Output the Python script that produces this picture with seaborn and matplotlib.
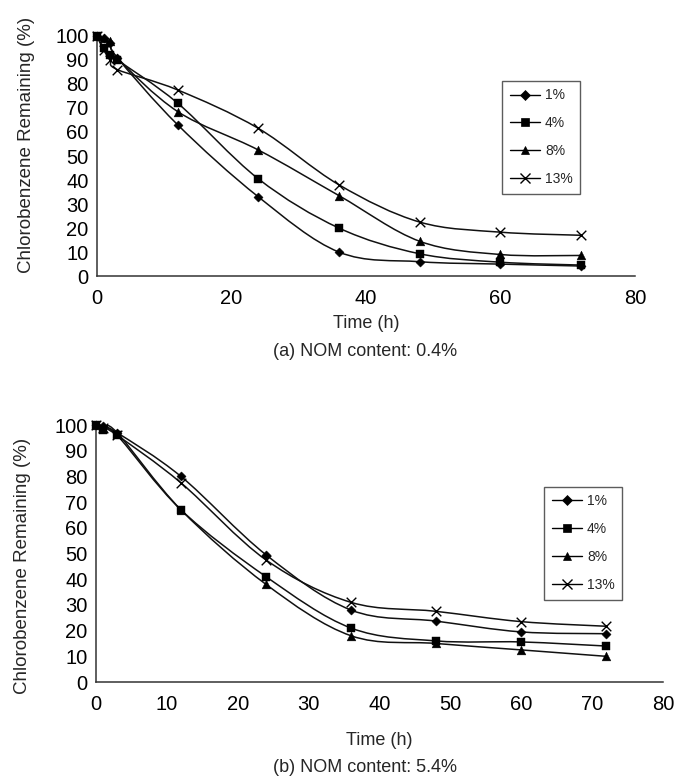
import numpy as np
import pandas as pd
import matplotlib
matplotlib.use("Agg")
import matplotlib.pyplot as plt
import seaborn as sns
from matplotlib.path import Path
from matplotlib.patches import PathPatch
from matplotlib.lines import Line2D

# ---- data ----
series = ["1%", "4%", "8%", "13%"]

time_a = [0, 1, 2, 3, 12, 24, 36, 48, 60, 72]
a_1 = [100, 99, 97, 91, 63, 33, 10, 6, 5, 4.2]
a_4 = [100, 95, 92, 90, 72, 40.5, 20, 9.3, 5.8, 4.6]
a_8 = [100, 99, 98, 91, 68.5, 52.5, 33.5, 14.5, 9, 8.6]
a_13 = [100, 94, 90, 86, 77.5, 61.5, 38, 22.5, 18.3, 17]

time_b = [0, 1, 3, 12, 24, 36, 48, 60, 72]
b_1 = [100, 99.5, 97, 80, 49.5, 28, 23.7, 19.5, 18.8]
b_4 = [100, 98, 96, 67, 41, 21, 16, 15.6, 14]
b_8 = [100, 99, 97, 67, 38, 18, 15, 12.5, 10]
b_13 = [100, 99, 96, 77.5, 47.5, 31, 27.5, 23.5, 21.7]

markers = {"1%": "D", "4%": "s", "8%": "^", "13%": "x"}
sizes = {"1%": 22, "4%": 30, "8%": 40, "13%": 48}


def long_df(t, cols):
    rows = []
    for name, vals in zip(series, cols):
        for tt, v in zip(t, vals):
            rows.append({"time": tt, "value": v, "NOM": name})
    return pd.DataFrame(rows)


def smooth_path(x, y):
    # Excel-style smoothed line: cubic Bezier through the points
    x = np.asarray(x, float)
    y = np.asarray(y, float)
    p = np.column_stack([x, y])
    verts = [p[0]]
    codes = [Path.MOVETO]
    n = len(p)
    for i in range(n - 1):
        p0 = p[i - 1] if i > 0 else p[i]
        p3 = p[i + 2] if i + 2 < n else p[i + 1]
        c1 = p[i] + (p[i + 1] - p0) / 6.0
        c2 = p[i + 1] - (p3 - p[i]) / 6.0
        verts += [c1, c2, p[i + 1]]
        codes += [Path.CURVE4] * 3
    return Path(verts, codes)


def panel(ax, t, cols, xticks, legend_loc, xlabelpad, ylabel_y):
    df = long_df(t, cols)
    for name in series:
        d = df[df["NOM"] == name]
        ax.add_patch(PathPatch(smooth_path(d["time"], d["value"]),
                               fill=False, edgecolor="#111111", lw=1.1,
                               zorder=2))
        sns.scatterplot(data=d, x="time", y="value", marker=markers[name],
                        s=sizes[name], color="black", edgecolor="black",
                        linewidth=1.0 if name == "13%" else 0.3,
                        ax=ax, zorder=3, legend=False, clip_on=False)
    ax.set_xlim(0, 80)
    ax.set_ylim(0, 100)
    ax.set_xticks(xticks)
    ax.set_yticks(range(0, 101, 10))
    ax.tick_params(direction="in", length=6, width=1, labelsize=14.5,
                   colors="#333333", labelcolor="black")
    ax.tick_params(axis="x", pad=9)
    ax.tick_params(axis="y", pad=6)
    sns.despine(ax=ax)
    for s in ["left", "bottom"]:
        ax.spines[s].set_color("#333333")
        ax.spines[s].set_linewidth(1.1)
    ax.set_xlabel("Time (h)", fontsize=13, labelpad=xlabelpad)
    ax.set_ylabel("Chlorobenzene Remaining (%)", fontsize=13.5)
    ax.yaxis.set_label_coords(-0.115, ylabel_y)
    handles = [Line2D([], [], color="black", lw=1, marker=markers[n],
                      markersize=5.5 if n != "13%" else 7,
                      markeredgewidth=1 if n == "13%" else 0.5,
                      label=n) for n in series]
    leg = ax.legend(handles=handles, loc="upper left",
                    bbox_to_anchor=legend_loc, frameon=True,
                    fancybox=False, edgecolor="#333333", fontsize=10,
                    handlelength=2.2, labelspacing=1.0,
                    borderpad=0.55, handletextpad=0.35,
                    borderaxespad=0)
    leg.get_frame().set_linewidth(1.0)


sns.set_style("white")
plt.rcParams["font.family"] = ["Liberation Sans", "DejaVu Sans"]

fig = plt.figure(figsize=(6.8, 7.8), dpi=100)
ax1 = fig.add_axes([0.1426, 0.646, 0.791, 0.308])
ax2 = fig.add_axes([0.141, 0.1256, 0.834, 0.3295])

panel(ax1, time_a, [a_1, a_4, a_8, a_13], range(0, 81, 20),
      (0.753, 0.813), 5, 0.545)
panel(ax2, time_b, [b_1, b_4, b_8, b_13], range(0, 81, 10),
      (0.79, 0.76), 13, 0.45)

fig.text(0.537, 1 - 352 / 780, "(a) NOM content: 0.4%", ha="center",
         va="center", fontsize=13)
fig.text(0.537, 1 - 767 / 780, "(b) NOM content: 5.4%", ha="center",
         va="center", fontsize=13)

fig.savefig("out.png", dpi=100)
